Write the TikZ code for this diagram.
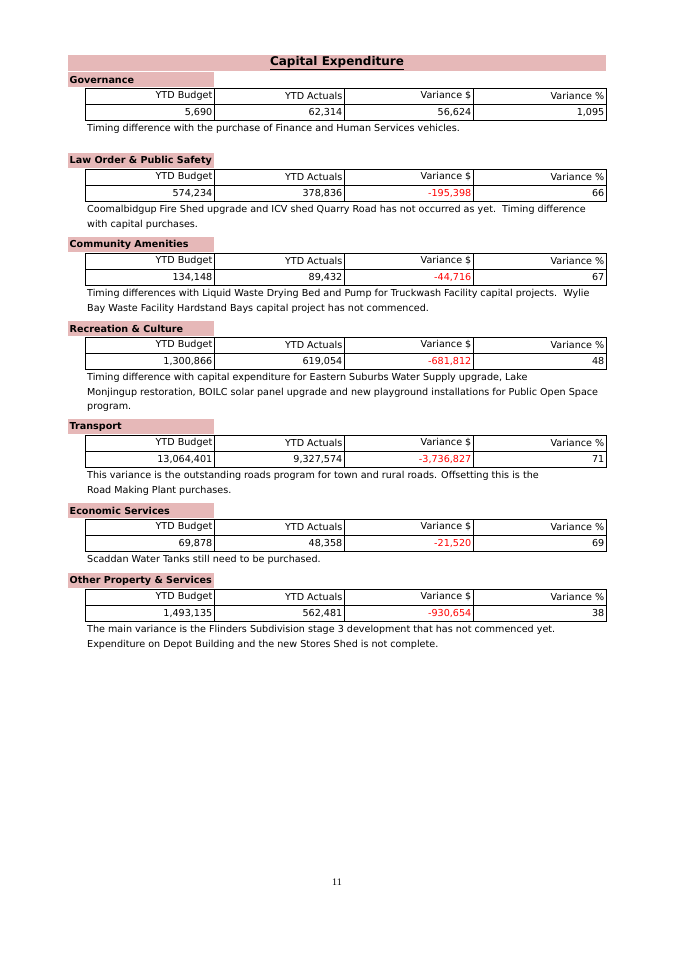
\documentclass[tikz,border=0pt]{standalone}
\usepackage{fontspec}
\setmainfont{DejaVu Sans}
\newfontfamily\pagefont{Liberation Serif}
\usetikzlibrary{positioning}
\definecolor{bandpink}{RGB}{230,184,184}
\definecolor{negred}{RGB}{255,0,0}
\tikzset{
  band/.style={fill=bandpink,draw=none},
  cell/.style={anchor=east,inner sep=1.5pt,font=\fontsize{9.6}{10}\selectfont},
  head/.style={anchor=west,inner sep=1.5pt,font=\fontsize{9.6}{10}\selectfont\bfseries},
  note/.style={anchor=north west,inner sep=0pt,align=left,font=\fontsize{9.6}{14.5}\selectfont}
}
% #1 name, #2 top y, #3 heading, #4 budget, #5 actuals, #6 variance (with colour), #7 percent, #8 note
\newcommand\capsec[8]{%
  \fill[band] (68,#2) rectangle (214,#2+15);
  \node[head] (#1h) at (68,#2+8) {#3};
  \draw[line width=0.8pt] (85,#2+16) rectangle (606,#2+48);
  \draw[line width=0.8pt] (85,#2+32) -- (606,#2+32);
  \foreach \cx in {214,344,473} \draw[line width=0.8pt] (\cx,#2+16) -- (\cx,#2+48);
  \node[cell] (#1a) at (214,#2+24) {YTD Budget};
  \node[cell] (#1b) at (344,#2+24) {YTD Actuals};
  \node[cell] (#1c) at (473,#2+24) {Variance \$};
  \node[cell] (#1d) at (606,#2+24) {Variance \%};
  \node[cell] (#1e) at (214,#2+40) {#4};
  \node[cell] (#1f) at (344,#2+40) {#5};
  \node[cell] (#1g) at (473,#2+40) {#6};
  \node[cell] (#1i) at (606,#2+40) {#7};
  \begin{scope}
    \clip (80,#2+48) rectangle (606,#2+92);
    \node[note] (#1n) at (87,#2+52) {#8};
  \end{scope}
}
\begin{document}
\begin{tikzpicture}[x=1pt,y=-1pt]
\useasboundingbox (0,0) rectangle (675,954);
\fill[band] (68,55) rectangle (606,71);
\node[font=\fontsize{12}{14}\selectfont\bfseries] (title) at (337,63) {\underline{Capital Expenditure}};
\capsec{gov}{72}{Governance}{5,690}{62,314}{56,624}{1,095}
  {Timing difference with the purchase of Finance and Human Services vehicles.}
\capsec{law}{153}{Law Order \& Public Safety}{574,234}{378,836}{\textcolor{negred}{-195,398}}{66}
  {Coomalbidgup Fire Shed upgrade and ICV shed Quarry Road has not occurred as yet.\ \ Timing difference\\with capital purchases.}
\capsec{com}{237}{Community Amenities}{134,148}{89,432}{\textcolor{negred}{-44,716}}{67}
  {Timing differences with Liquid Waste Drying Bed and Pump for Truckwash Facility capital projects.\ \ Wylie\\Bay Waste Facility Hardstand Bays capital project has not commenced.}
\capsec{rec}{321}{Recreation \& Culture}{1,300,866}{619,054}{\textcolor{negred}{-681,812}}{48}
  {Timing difference with capital expenditure for Eastern Suburbs Water Supply upgrade, Lake\\Monjingup restoration, BOILC solar panel upgrade and new playground installations for Public Open Space\\program.}
\capsec{tra}{419}{Transport}{13,064,401}{9,327,574}{\textcolor{negred}{-3,736,827}}{71}
  {This variance is the outstanding roads program for town and rural roads. Offsetting this is the\\Road Making Plant purchases.}
\capsec{eco}{503}{Economic Services}{69,878}{48,358}{\textcolor{negred}{-21,520}}{69}
  {Scaddan Water Tanks still need to be purchased.}
\capsec{oth}{573}{Other Property \& Services}{1,493,135}{562,481}{\textcolor{negred}{-930,654}}{38}
  {The main variance is the Flinders Subdivision stage 3 development that has not commenced yet.\\Expenditure on Depot Building and the new Stores Shed is not complete.}
\node[font=\pagefont\fontsize{10}{12}\selectfont] (page) at (337,882) {11};
\end{tikzpicture}
\end{document}
